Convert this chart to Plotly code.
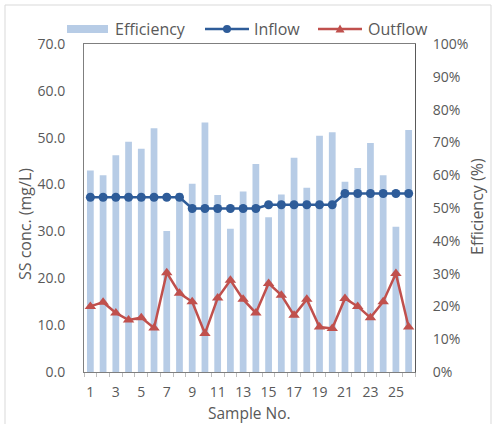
import plotly.graph_objects as go

samples = list(range(1, 27))
efficiency = [61.4, 60.0, 66.1, 70.2, 68.1, 74.3, 43.0, 54.6, 57.4, 76.1, 54.0, 43.7, 55.0,
              63.4, 47.2, 54.1, 65.3, 56.2, 72.0, 73.1, 58.0, 62.2, 69.8, 60.0, 44.3, 73.8]
inflow = [37.3] * 8 + [34.9] * 6 + [35.7] * 6 + [38.1] * 6
outflow = [14.0, 14.9, 12.6, 11.1, 11.6, 9.4, 21.2, 16.8, 15.0, 8.2, 15.8, 19.6, 15.5,
           12.6, 18.9, 16.4, 12.1, 15.5, 9.6, 9.3, 15.7, 14.0, 11.6, 15.0, 21.0, 9.6]
x_tick_labels = [str(i) for i in range(1, 27, 2)]
series_names = ["Efficiency", "Inflow", "Outflow"]

GREY = "#595959"
FONT = "Open Sans"
BAR_C = "#B7CCE6"
IN_C = "#2E5C99"
OUT_C = "#C0504D"

fig = go.Figure()
fig.add_trace(go.Bar(x=samples, y=efficiency, name=series_names[0], yaxis="y",
                     marker=dict(color=BAR_C, line=dict(width=0)), showlegend=False))
fig.add_trace(go.Scatter(x=samples, y=inflow, name=series_names[1], yaxis="y2", mode="lines+markers",
                         line=dict(color=IN_C, width=2.5),
                         marker=dict(symbol="circle", size=9, color=IN_C), showlegend=False))
fig.add_trace(go.Scatter(x=samples, y=outflow, name=series_names[2], yaxis="y2", mode="lines+markers",
                         line=dict(color=OUT_C, width=2.5),
                         marker=dict(symbol="triangle-up", size=10, color=OUT_C), showlegend=False))

W, H = 497, 424
L, R, T, B = 84, 82, 44, 52
pw, ph = W - L - R, H - T - B

def px(xp):
    return (xp - L) / pw

def py(yp):
    return 1 - (yp - T) / ph

LY = 29
shapes = [
    dict(type="rect", xref="paper", yref="paper", x0=px(5), x1=px(491), y0=py(432), y1=py(5),
         line=dict(color="#D9D9D9", width=1), fillcolor="rgba(0,0,0,0)", layer="below"),
    dict(type="rect", xref="paper", yref="paper", x0=px(67), x1=px(108), y0=py(33), y1=py(25),
         line=dict(width=0), fillcolor=BAR_C),
    dict(type="line", xref="paper", yref="paper", x0=px(205), x1=px(249), y0=py(LY), y1=py(LY),
         line=dict(color=IN_C, width=2.5)),
    dict(type="circle", xref="paper", yref="paper", x0=px(223), x1=px(231), y0=py(LY + 4), y1=py(LY - 4),
         line=dict(width=0), fillcolor=IN_C),
    dict(type="line", xref="paper", yref="paper", x0=px(318), x1=px(362), y0=py(LY), y1=py(LY),
         line=dict(color=OUT_C, width=2.5)),
    dict(type="path", xref="paper", yref="paper",
         path=f"M {px(335.5)} {py(LY + 3.5)} L {px(344.5)} {py(LY + 3.5)} L {px(340)} {py(LY - 4.5)} Z",
         line=dict(width=0), fillcolor=OUT_C),
]

def ann(text, x, y, xanchor="left", angle=0, size=16):
    return dict(text=text, x=px(x), y=py(y), xref="paper", yref="paper",
                xanchor=xanchor, yanchor="middle", showarrow=False, textangle=angle,
                font=dict(size=size, color=GREY))

annotations = [
    ann(series_names[0], 113, LY),
    ann(series_names[1], 252, LY),
    ann(series_names[2], 366, LY),
    ann("SS conc. (mg/L)", 25, 224, xanchor="center", angle=-90, size=16),
    ann("Efficiency (%)", 477, 207, xanchor="center", angle=-90, size=16),
    ann("Sample No.", 249, 413, xanchor="center", size=15.5),
]

fig.update_layout(
    width=W, height=H,
    margin=dict(l=L, r=R, t=T, b=B, autoexpand=False),
    paper_bgcolor="white", plot_bgcolor="white",
    font=dict(family=FONT, color=GREY, size=14),
    bargap=0.47,
    showlegend=False,
    xaxis=dict(range=[0.5, 26.5], tickmode="array",
               tickvals=list(range(1, 27, 2)), ticktext=x_tick_labels,
               showgrid=False, zeroline=False, showline=True, linecolor="#7F7F7F",
               linewidth=1, mirror=True, ticks="", ticklabelstandoff=7,
               minor=dict(tickmode="array", tickvals=[i + 0.5 for i in range(0, 27)],
                          ticks="outside", ticklen=4, tickcolor="#BFBFBF")),
    yaxis=dict(range=[0, 100], tickmode="array", tickvals=list(range(0, 101, 10)),
               ticktext=[f"{v}%" for v in range(0, 101, 10)], side="right",
               showgrid=False, zeroline=False, showline=True, linecolor="#595959",
               linewidth=1, ticks="", ticklabelstandoff=14),
    yaxis2=dict(range=[0, 70], tickmode="array", tickvals=list(range(0, 71, 10)),
                ticktext=[f"{v:.1f}" for v in range(0, 71, 10)], side="left",
                overlaying="y", showgrid=False, zeroline=False, showline=True,
                linecolor="#7F7F7F", linewidth=1, ticks="", ticklabelstandoff=15),
    shapes=shapes,
    annotations=annotations,
)

fig.write_html("out.html")
